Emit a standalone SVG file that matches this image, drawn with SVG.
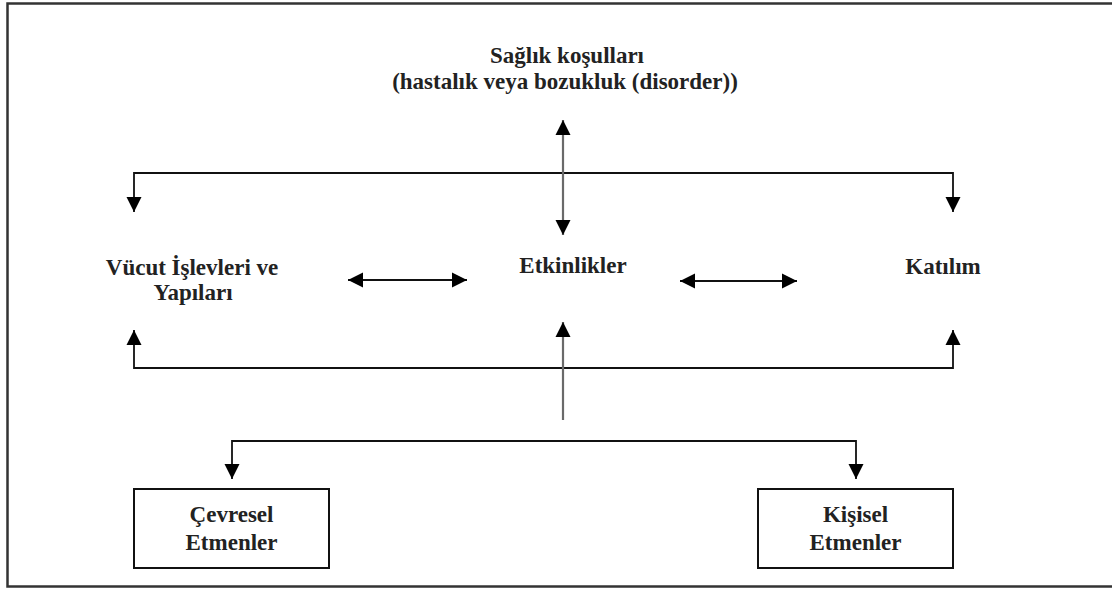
<svg xmlns="http://www.w3.org/2000/svg" width="1112" height="589" viewBox="0 0 1112 589">
  <style>
    .t { font-family: "Liberation Serif", "Tinos", "DejaVu Serif", serif; font-weight: bold; font-size: 23px; fill: #222; text-anchor: middle; }
    .c { fill: none; stroke: #111; stroke-width: 1.8; }
    .g { fill: none; stroke: #6a6a6a; stroke-width: 2.2; }
    .box { fill: #fff; stroke: #111; stroke-width: 2; }
    .frame { fill: none; stroke: #333; stroke-width: 2.5; }
  </style>
  <defs>
    <marker id="ah" viewBox="0 0 16 16" refX="15" refY="8" markerWidth="16" markerHeight="16" markerUnits="userSpaceOnUse" orient="auto-start-reverse">
      <path d="M0,0.5 L15,8 L0,15.5 z" fill="#000"/>
    </marker>
  </defs>
  <rect width="1112" height="589" fill="#fff"/>
  <path class="frame" d="M1115,3.5 L7.5,3.5 L7.5,586.5 L1115,586.5"/>

  <g id="connectors">
    <path class="c" d="M134,212 L134,173 L953,173 L953,212" marker-start="url(#ah)" marker-end="url(#ah)"/>
    <path class="g" d="M563,120 L563,235" marker-start="url(#ah)" marker-end="url(#ah)"/>
    <path class="c" d="M348,280 L467,280" marker-start="url(#ah)" marker-end="url(#ah)"/>
    <path class="c" d="M680,281 L797,281" marker-start="url(#ah)" marker-end="url(#ah)"/>
    <path class="c" d="M134,330 L134,368 L953,368 L953,330" marker-start="url(#ah)" marker-end="url(#ah)"/>
    <path class="g" d="M563,420 L563,322" marker-end="url(#ah)"/>
    <path class="c" d="M232,479 L232,441 L856,441 L856,479" marker-start="url(#ah)" marker-end="url(#ah)"/>
  </g>

  <g id="saglik">
    <text class="t" x="567" y="63">Sağlık koşulları</text>
    <text class="t" x="565" y="89">(hastalık veya bozukluk (disorder))</text>
  </g>
  <g id="vucut">
    <text class="t" x="192" y="275">Vücut İşlevleri ve</text>
    <text class="t" x="193" y="300">Yapıları</text>
  </g>
  <g id="etkinlikler">
    <text class="t" x="573" y="273">Etkinlikler</text>
  </g>
  <g id="katilim">
    <text class="t" x="943" y="274">Katılım</text>
  </g>
  <g id="cevresel">
    <rect class="box" x="134" y="489" width="195" height="79"/>
    <text class="t" x="231.5" y="522">Çevresel</text>
    <text class="t" x="231.5" y="550">Etmenler</text>
  </g>
  <g id="kisisel">
    <rect class="box" x="758" y="489" width="195" height="79"/>
    <text class="t" x="855.5" y="522">Kişisel</text>
    <text class="t" x="855.5" y="550">Etmenler</text>
  </g>
</svg>
